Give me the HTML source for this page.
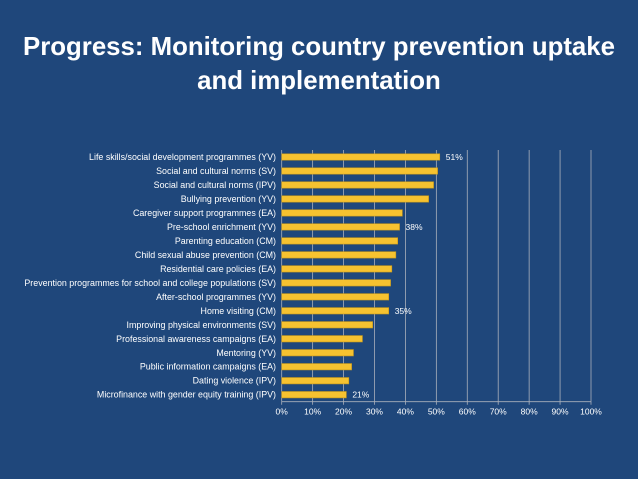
<!DOCTYPE html>
<html><head><meta charset="utf-8"><style>
html,body{margin:0;padding:0}
body{width:638px;height:479px;background:#1f477b;overflow:hidden;font-family:"Liberation Sans",sans-serif}
h1{position:absolute;left:0;top:30px;width:638px;margin:0;text-align:center;color:#fff;font-size:25.8px;font-weight:bold;line-height:34px}
svg{position:absolute;left:0;top:0}
</style></head><body>
<h1>Progress: Monitoring country prevention uptake<br>and implementation</h1>
<svg id="c" width="638" height="479"></svg>
<script>
const categories=["Life skills/social development programmes (YV)","Social and cultural norms (SV)","Social and cultural norms (IPV)","Bullying prevention (YV)","Caregiver support programmes (EA)","Pre-school enrichment (YV)","Parenting education (CM)","Child sexual abuse prevention (CM)","Residential care policies (EA)","Prevention programmes for school and college populations (SV)","After-school programmes (YV)","Home visiting (CM)","Improving physical environments (SV)","Professional awareness campaigns (EA)","Mentoring (YV)","Public information campaigns (EA)","Dating violence (IPV)","Microfinance with gender equity training (IPV)"];
const values=[51.1,50.4,49.1,47.5,39,38.1,37.5,36.9,35.6,35.2,34.6,34.6,29.4,26.1,23.2,22.6,21.7,20.9];
const labels=["51%","","","","","38%","","","","","","35%","","","","","","21%"];
const ticks=[0,10,20,30,40,50,60,70,80,90,100];
const svg=document.getElementById('c');const NS="http://www.w3.org/2000/svg";
const X0=281.7,X1=591,Y0=150,Y1=401.7;
const xs=v=>X0+(X1-X0)*v/100;
const step=(Y1-Y0)/categories.length;
const yc=i=>Y0+step*(i+0.5);
function mk(t,a){const e=document.createElementNS(NS,t);for(const k in a)e.setAttribute(k,a[k]);svg.appendChild(e);return e;}
ticks.forEach(t=>{
 const l=mk('line',{x1:xs(t),x2:xs(t),y1:Y0,y2:Y1+3,stroke:'#aab0bb','stroke-width':0.8});
 
 
 const tx=mk('text',{x:xs(t),y:Y1+13,fill:'#fff','font-size':8.5,'text-anchor':'middle','font-family':'Liberation Sans, sans-serif'});
 tx.textContent=t+'%';
 
 
});
mk('line',{x1:X0,x2:X1,y1:Y1,y2:Y1,stroke:'#aab0bb','stroke-width':0.8});
categories.forEach((c,i)=>{
 const y=yc(i);
 const r=mk('rect',{x:X0,y:y-3.2,width:xs(values[i])-X0,height:6.4,fill:'#f6c230',stroke:'#c99a1a','stroke-width':0.6});
 
 
 const t=mk('text',{x:276,y:y+3,fill:'#fff','font-size':8.9,'text-anchor':'end','font-family':'Liberation Sans, sans-serif'});
 t.textContent=c;
 
 
 if(labels[i]){
  const v=mk('text',{x:xs(values[i])+6,y:y+3,fill:'#fff','font-size':8.5,'font-family':'Liberation Sans, sans-serif'});
  v.textContent=labels[i];
  
  
 }
});
</script>
</body></html>
